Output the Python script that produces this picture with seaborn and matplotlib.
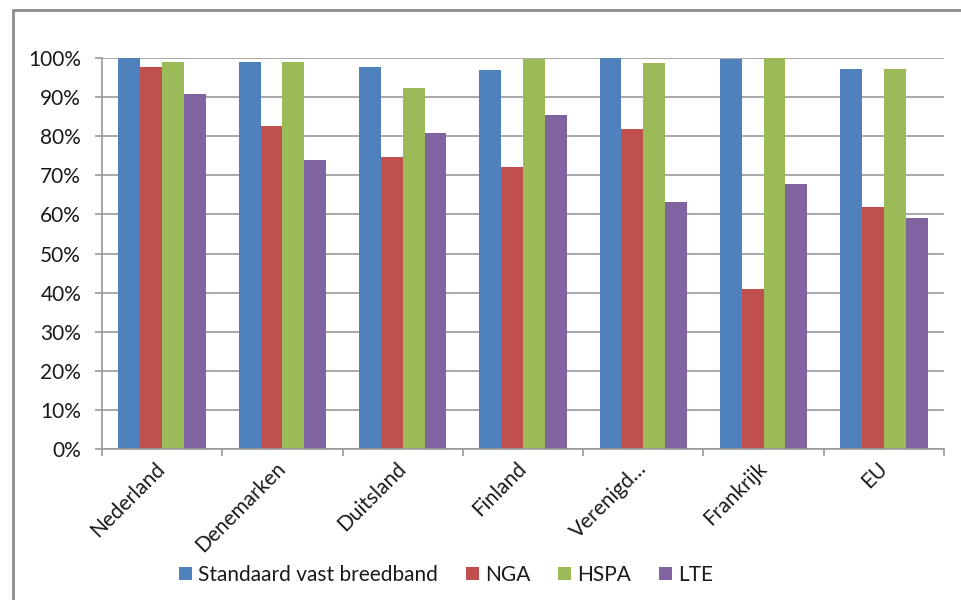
import matplotlib
matplotlib.use("Agg")
import matplotlib.pyplot as plt
import seaborn as sns
import pandas as pd
import numpy as np
from matplotlib.patches import Rectangle, Patch
from matplotlib.ticker import PercentFormatter, FixedLocator

# Coverage per country (%) for each network type
countries = ["Nederland", "Denemarken", "Duitsland", "Finland",
             "Verenigd\u2026", "Frankrijk", "EU"]
series = ["Standaard vast breedband", "NGA", "HSPA", "LTE"]
standaard = [100.0, 99.1, 97.8, 96.9, 100.0, 99.7, 97.2]
nga = [97.8, 82.6, 74.8, 72.2, 81.9, 40.9, 62.0]
hspa = [99.1, 99.1, 92.3, 99.7, 98.6, 100.0, 97.2]
lte = [90.7, 73.9, 80.9, 85.5, 63.2, 67.9, 59.1]
colors = ["#4F81BD", "#C0504D", "#9BBB59", "#8064A2"]
yticks = [i / 10 for i in range(11)]

sns.set_theme(style="white")
plt.rcParams["font.family"] = ["Lato", "DejaVu Sans"]

df = pd.DataFrame({
    "land": countries * len(series),
    "serie": np.repeat(series, len(countries)),
    "waarde": np.array(standaard + nga + hspa + lte) / 100.0,
})

grey = "#9a9a9a"
text_col = "#1a1a1a"
fs = 15

fig = plt.figure(figsize=(9.62, 6.0), dpi=100)
ax = fig.add_axes([102 / 962, 151 / 600, 842 / 962, 391 / 600])

sns.barplot(data=df, x="land", y="waarde", hue="serie", order=countries,
            hue_order=series, palette=colors, saturation=1, width=0.727,
            gap=0, errorbar=None, edgecolor="none", linewidth=0,
            legend=False, ax=ax)

ax.set_xlim(-0.5, len(countries) - 0.5)
ax.set_ylim(0, 1)
ax.set_yticks(yticks)
ax.yaxis.set_major_formatter(PercentFormatter(1.0, decimals=0))
ax.yaxis.grid(True, color=grey, linewidth=1.2)
ax.set_axisbelow(True)

# category boundaries get tick marks, centres get the labels
ax.xaxis.set_major_locator(FixedLocator(np.arange(-0.5, len(countries), 1.0)))
ax.xaxis.set_minor_locator(FixedLocator(np.arange(len(countries))))
ax.set_xticklabels([""] * (len(countries) + 1))
ax.set_xticklabels(countries, minor=True)
ax.tick_params(axis="x", which="major", bottom=True, length=5, width=1.2,
               color=grey, direction="out")
ax.tick_params(axis="x", which="minor", bottom=True, length=0, pad=12,
               labelsize=fs, labelcolor=text_col)
for lab in ax.get_xticklabels(minor=True):
    lab.set_rotation(45)
    lab.set_ha("right")
    lab.set_va("center")
    lab.set_rotation_mode("anchor")

ax.tick_params(axis="y", left=True, length=5, width=1.2, color=grey,
               direction="out", pad=10, labelsize=fs, labelcolor=text_col)

ax.set_xlabel("")
ax.set_ylabel("")
for side in ("top", "right"):
    ax.spines[side].set_visible(False)
for side in ("left", "bottom"):
    ax.spines[side].set_color(grey)
    ax.spines[side].set_linewidth(1.2)

handles = [Patch(facecolor=c, edgecolor="none", label=s)
           for c, s in zip(colors, series)]
fig.legend(handles=handles, loc="center", bbox_to_anchor=(446 / 962, 25 / 600),
           ncol=4, frameon=False, fontsize=fs, handlelength=0.6,
           handleheight=0.6, handletextpad=0.3, columnspacing=1.35,
           labelcolor=text_col)

# chart-area border
fig.patches.append(Rectangle((13 / 962, -0.1), 1.2, 590 / 600 + 0.1,
                             transform=fig.transFigure, fill=False,
                             edgecolor="#8c8c8c", linewidth=2))

fig.savefig("out.png", dpi=100)
